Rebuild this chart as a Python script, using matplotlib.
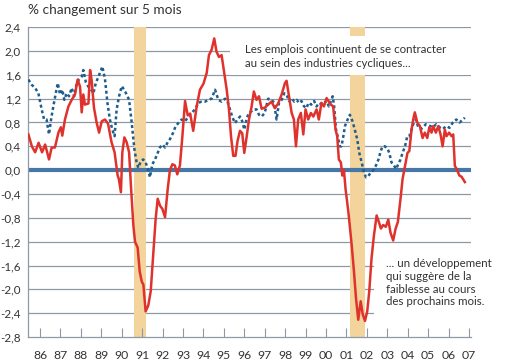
import matplotlib.pyplot as plt
from matplotlib.patches import Rectangle

# ---------------- data ----------------
# years: 86 = 1986, 100 = 2000, ...
red_years = [85.43, 85.6, 85.76, 85.93, 86.1, 86.25, 86.44, 86.57, 86.73, 86.9,
             87.02, 87.09, 87.22, 87.39, 87.55, 87.71, 87.84, 87.96, 88.04, 88.12,
             88.2, 88.37, 88.45, 88.53, 88.64, 88.77, 88.89, 89.02, 89.18, 89.33,
             89.5, 89.65, 89.8, 89.86, 89.96, 90.03, 90.13, 90.24, 90.36, 90.45,
             90.57, 90.65, 90.78, 90.88, 90.98, 91.06, 91.17, 91.3, 91.42, 91.55,
             91.66, 91.76, 91.88, 91.99, 92.12, 92.25, 92.36, 92.48, 92.6, 92.72,
             92.85, 92.97, 93.1, 93.23, 93.35, 93.5, 93.67, 93.83, 94.0, 94.16,
             94.27, 94.4, 94.53, 94.64, 94.76, 94.89, 95.02, 95.14, 95.25, 95.35,
             95.46, 95.57, 95.67, 95.79, 95.9, 96.0, 96.12, 96.23, 96.36, 96.47,
             96.6, 96.72, 96.85, 97.01, 97.17, 97.33, 97.5, 97.66, 97.83, 97.99,
             98.07, 98.19, 98.32, 98.43, 98.53, 98.64, 98.77, 98.89, 99.0, 99.13,
             99.26, 99.38, 99.54, 99.65, 99.78, 99.9, 100.03, 100.14, 100.24, 100.35,
             100.47, 100.55, 100.63, 100.73, 100.8, 100.88, 100.96, 101.1, 101.26, 101.37,
             101.47, 101.58, 101.7, 101.8, 101.91, 102.02, 102.12, 102.23, 102.35, 102.48,
             102.59, 102.69, 102.8, 102.93, 103.05, 103.16, 103.29, 103.41, 103.52, 103.65,
             103.75, 103.87, 103.99, 104.08, 104.19, 104.27, 104.35, 104.47, 104.6, 104.73,
             104.84, 104.96, 105.06, 105.17, 105.25, 105.38, 105.5, 105.61, 105.71, 105.82,
             105.9, 106.03, 106.15, 106.23, 106.31, 106.4, 106.53, 106.64, 106.8]
red_values = [0.60, 0.40, 0.30, 0.46, 0.30, 0.43, 0.18, 0.38, 0.38, 0.63,
              0.72, 0.58, 0.85, 1.07, 1.18, 1.27, 1.52, 1.40, 0.97, 1.27,
              1.10, 1.12, 1.68, 1.50, 1.05, 0.80, 0.63, 0.82, 0.85, 0.78,
              0.47, 0.30, -0.09, -0.15, -0.37, 0.30, 0.55, 0.47, 0.30, -0.26,
              -0.93, -1.20, -1.30, -1.70, -1.87, -1.92, -2.37, -2.27, -2.03, -1.37,
              -0.82, -0.48, -0.60, -0.65, -0.79, -0.32, 0.00, 0.10, 0.08, -0.07,
              0.08, 0.57, 1.16, 0.92, 0.95, 0.66, 1.07, 1.35, 1.45, 1.63,
              1.93, 2.02, 2.21, 1.99, 1.90, 1.93, 1.63, 1.35, 1.02, 0.57,
              0.24, 0.24, 0.49, 0.66, 0.62, 0.29, 0.57, 0.85, 1.07, 1.32,
              1.18, 1.24, 1.03, 1.05, 1.10, 1.15, 1.04, 1.12, 1.27, 1.46,
              1.50, 1.24, 0.96, 0.85, 0.40, 0.85, 0.96, 0.60, 1.02, 0.85,
              0.96, 0.90, 1.02, 0.85, 1.13, 1.07, 1.21, 1.15, 1.10, 1.07,
              0.68, 0.57, 0.18, 0.13, -0.09, 0.00, -0.32, -0.71, -1.26, -1.70,
              -2.15, -2.51, -2.20, -2.42, -2.53, -2.37, -2.03, -1.48, -1.09, -0.76,
              -0.87, -0.98, -0.92, -0.95, -0.83, -1.05, -1.18, -0.98, -0.87, -0.48,
              -0.15, 0.07, 0.29, 0.32, 0.68, 0.85, 0.97, 0.80, 0.74, 0.54,
              0.63, 0.54, 0.72, 0.63, 0.74, 0.63, 0.74, 0.60, 0.40, 0.68,
              0.57, 0.63, 0.57, 0.60, 0.07, 0.02, -0.09, -0.11, -0.20]

blue_years = [85.43, 85.6, 85.76, 85.92, 86.08, 86.2, 86.32, 86.44, 86.54, 86.65,
              86.77, 86.87, 86.98, 87.09, 87.19, 87.3, 87.42, 87.55, 87.67, 87.78,
              87.9, 88.04, 88.12, 88.24, 88.37, 88.5, 88.61, 88.73, 88.86, 88.99,
              89.05, 89.18, 89.3, 89.42, 89.54, 89.65, 89.75, 89.87, 90.0, 90.12,
              90.24, 90.36, 90.49, 90.62, 90.73, 90.81, 90.94, 91.05, 91.17, 91.3,
              91.38, 91.5, 91.63, 91.76, 91.87, 91.99, 92.12, 92.25, 92.36, 92.52,
              92.64, 92.77, 92.93, 93.1, 93.26, 93.42, 93.59, 93.75, 93.91, 94.08,
              94.24, 94.4, 94.57, 94.73, 94.89, 95.06, 95.18, 95.3, 95.41, 95.54,
              95.67, 95.79, 95.9, 96.0, 96.12, 96.23, 96.36, 96.49, 96.6, 96.72,
              96.85, 97.0, 97.17, 97.34, 97.46, 97.58, 97.7, 97.83, 97.96, 98.07,
              98.19, 98.32, 98.45, 98.57, 98.67, 98.8, 98.93, 99.04, 99.15, 99.28,
              99.42, 99.54, 99.67, 99.79, 99.92, 100.03, 100.14, 100.27, 100.33, 100.4,
              100.49, 100.57, 100.68, 100.76, 100.85, 100.93, 101.06, 101.17, 101.3, 101.41,
              101.53, 101.63, 101.75, 101.86, 101.96, 102.07, 102.19, 102.32, 102.45, 102.57,
              102.68, 102.77, 102.88, 103.0, 103.1, 103.21, 103.33, 103.43, 103.54, 103.65,
              103.75, 103.87, 103.98, 104.08, 104.19, 104.3, 104.4, 104.52, 104.66, 104.89,
              105.05, 105.23, 105.4, 105.56, 105.72, 105.89, 106.05, 106.21, 106.38, 106.54,
              106.7, 106.8]
blue_values = [1.52, 1.43, 1.38, 1.29, 1.02, 0.85, 0.85, 0.60, 0.85, 1.07,
               1.29, 1.46, 1.27, 1.35, 1.18, 1.29, 1.24, 1.38, 1.24, 1.43,
               1.52, 1.57, 1.68, 1.48, 1.40, 1.35, 1.29, 1.46, 1.57, 1.68,
               1.74, 1.53, 1.13, 0.85, 0.68, 0.57, 1.02, 1.24, 1.41, 1.35,
               1.27, 1.18, 0.79, 0.35, 0.13, 0.04, 0.15, 0.18, 0.13, 0.00,
               -0.12, 0.10, 0.18, 0.29, 0.38, 0.43, 0.38, 0.47, 0.52, 0.63,
               0.74, 0.79, 0.85, 0.82, 0.90, 0.96, 1.02, 1.13, 1.15, 1.15,
               1.18, 1.20, 1.35, 1.18, 1.15, 1.20, 1.15, 1.02, 0.90, 0.79,
               0.85, 0.90, 0.82, 0.68, 0.87, 0.96, 0.99, 1.02, 1.02, 0.93,
               0.90, 0.96, 1.20, 1.18, 1.13, 0.85, 1.13, 1.18, 1.29, 1.27,
               1.16, 1.21, 1.15, 1.18, 1.13, 1.16, 1.07, 1.04, 1.13, 1.10,
               1.16, 1.07, 1.13, 1.10, 1.13, 1.16, 1.07, 1.18, 1.24, 1.07,
               0.68, 0.57, 0.40, 0.40, 0.57, 0.74, 0.85, 0.93, 0.82, 0.68,
               0.52, 0.29, 0.13, -0.04, -0.12, -0.10, -0.04, 0.00, 0.08, 0.18,
               0.32, 0.40, 0.40, 0.37, 0.29, 0.13, 0.08, 0.02, 0.10, 0.18,
               0.29, 0.40, 0.57, 0.57, 0.68, 0.80, 0.85, 0.72, 0.69, 0.77,
               0.75, 0.72, 0.77, 0.72, 0.69, 0.74, 0.71, 0.80, 0.85, 0.80,
               0.85, 0.88]

# recessions (start, end)
recessions = [(90.6, 91.2), (101.2, 101.9)]

year_ticks = list(range(86, 108))
year_labels = ["86", "87", "88", "89", "90", "91", "92", "93", "94", "95", "96",
               "97", "98", "99", "00", "01", "02", "03", "04", "05", "06", "07"]
y_ticks = [-2.8, -2.4, -2.0, -1.6, -1.2, -0.8, -0.4, 0.0, 0.4, 0.8, 1.2, 1.6, 2.0, 2.4]

note_top = "Les emplois continuent de se contracter\nau sein des industries cycliques..."
note_bottom = "... un développement\nqui suggère de la\nfaiblesse au cours\ndes prochains mois."

# ---------------- plot ----------------
plt.rcParams["font.family"] = ["Lato", "DejaVu Sans"]
txt = "#333333"
grid_c = "#8d99a6"

fig = plt.figure(figsize=(5.06, 3.62), dpi=100)
ax = fig.add_axes([0.0553, 0.069, 0.8755, 0.856])

for a, b in recessions:
    ax.axvspan(a, b, color="#f3d49c", lw=0, zorder=1)

for v in y_ticks[1:]:
    ax.axhline(v, color=grid_c, lw=0.9, zorder=0)
ax.axhline(0, color="#4677a6", lw=3.0, zorder=2)

# white boxes behind the notes
ax.add_patch(Rectangle((0.455, 0.845), 0.55, 0.125, transform=ax.transAxes,
                       facecolor="white", edgecolor="none", zorder=1.5))
ax.add_patch(Rectangle((0.78, 0.055), 0.23, 0.235, transform=ax.transAxes,
                       facecolor="white", edgecolor="none", zorder=1.5))

ax.plot(red_years, red_values, color="#e0322c", lw=1.8, zorder=4)
ax.plot(blue_years, blue_values, color="#1f5d8c", lw=1.8, ls=(0, (1.2, 1.1)), zorder=3)

ax.text(0.489, 0.905, note_top, transform=ax.transAxes, fontsize=8.3, color=txt,
        va="center", ha="left", linespacing=1.25, zorder=5)
ax.text(0.808, 0.175, note_bottom, transform=ax.transAxes, fontsize=8.3, color=txt,
        va="center", ha="left", linespacing=1.2, zorder=5)

fig.text(0.0553, 0.972, "% changement sur 5 mois", fontsize=9.8, color=txt,
         va="center", ha="left")

ax.set_xlim(85.41, 107.1)
ax.set_ylim(-2.8, 2.4)
ax.set_xticks(year_ticks)
ax.set_xticklabels(year_labels)
ax.set_yticks(y_ticks)
ax.set_yticklabels([f"{v:.1f}".replace(".", ",") for v in y_ticks])
ax.tick_params(axis="x", direction="in", length=6.5, color=grid_c, pad=9,
               labelsize=8.8, labelcolor=txt)
ax.tick_params(axis="y", length=0, pad=5, labelsize=8.4, labelcolor=txt)

for s in ["top", "right"]:
    ax.spines[s].set_visible(False)
ax.spines["left"].set_color(grid_c)
ax.spines["bottom"].set_color(grid_c)
ax.spines["left"].set_linewidth(0.9)
ax.spines["bottom"].set_linewidth(0.9)

fig.savefig("out.png", dpi=100)
